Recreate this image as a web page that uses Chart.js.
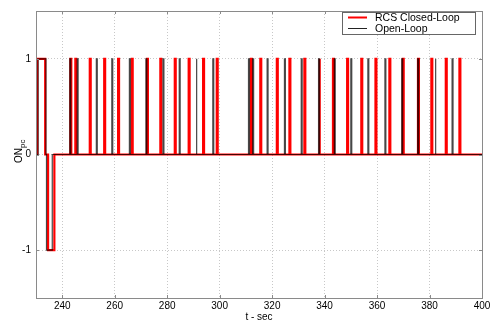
<!DOCTYPE html>
<html>
<head>
<meta charset="utf-8">
<script src="https://cdn.jsdelivr.net/npm/chart.js@4/dist/chart.umd.min.js"></script>
<style>
  html, body { margin: 0; padding: 0; background: #fff; }
  #wrap { width: 495px; height: 323px; }
</style>
</head>
<body>
<div id="wrap"><canvas id="chart" width="495" height="323"></canvas></div>
<script>
// axis ticks
var xTicks = [240, 260, 280, 300, 320, 340, 360, 380, 400];
var yTicks = [-1, 0, 1];

// start transient, [t, level] steps
var redStart = [[230, 0], [230.5, 1], [233.5, 0], [234.6, -1], [237.0, 0]];
var blackStart = [[230, 0], [230.8, 1], [233.8, 0], [234.0, -1], [236.2, 0]];

// thruster firing times (sec), each pulse goes 0 -> 1 -> 0
var redPulses = [243.1, 245.0, 250.5, 256.0, 261.3, 266.5, 272.3, 277.4, 282.9, 288.2,
    293.7, 298.9, 311.9, 315.5, 321.8, 326.6, 332.3, 337.9, 343.2, 348.6, 354.0, 359.4,
    364.7, 369.8, 375.6, 380.7, 386.2, 391.4];
var blackPulses = [242.9, 245.7, 253.0, 258.9, 265.6, 271.9, 278.4, 284.6, 291.0, 297.4,
    311.0, 312.6, 318.1, 324.7, 331.1, 337.7, 343.7, 350.0, 356.5, 363.0, 369.4, 375.5,
    382.1, 388.6];
var pulseWidth = 0.35;
var tEnd = 400;

function buildSeries(start, pulses) {
    var pts = [];
    for (var i = 0; i < start.length; i++) {
        if (i > 0) pts.push({x: start[i][0], y: start[i - 1][1]});
        pts.push({x: start[i][0], y: start[i][1]});
    }
    for (var j = 0; j < pulses.length; j++) {
        var t = pulses[j];
        pts.push({x: t, y: 0});
        pts.push({x: t, y: 1});
        pts.push({x: t + pulseWidth, y: 1});
        pts.push({x: t + pulseWidth, y: 0});
    }
    pts.push({x: tEnd, y: 0});
    return pts;
}

var FONT = "'Liberation Sans', Arial, sans-serif";

// frame box, inner ticks, y label and legend
var framePlugin = {
    id: 'frame',
    afterDraw: function(chart) {
        var ctx = chart.ctx;
        var a = chart.chartArea;
        var xs = chart.scales.x, ys = chart.scales.y;
        ctx.save();
        ctx.strokeStyle = '#8a8a8a';
        ctx.lineWidth = 1;
        ctx.strokeRect(Math.round(a.left) + 0.5, Math.round(a.top) + 0.5,
            Math.round(a.right - a.left), Math.round(a.bottom - a.top));
        ctx.beginPath();
        xTicks.forEach(function(v) {
            var px = Math.round(xs.getPixelForValue(v)) + 0.5;
            ctx.moveTo(px, a.top); ctx.lineTo(px, a.top + 3);
            ctx.moveTo(px, a.bottom); ctx.lineTo(px, a.bottom - 3);
        });
        yTicks.forEach(function(v) {
            var py = Math.round(ys.getPixelForValue(v)) + 0.5;
            ctx.moveTo(a.left, py); ctx.lineTo(a.left + 3, py);
            ctx.moveTo(a.right, py); ctx.lineTo(a.right - 3, py);
        });
        ctx.stroke();

        // y label ON with subscript pc
        ctx.fillStyle = '#000';
        ctx.translate(22, 163);
        ctx.rotate(-Math.PI / 2);
        ctx.textBaseline = 'alphabetic';
        ctx.textAlign = 'left';
        ctx.font = '10px ' + FONT;
        ctx.fillText('ON', 0, 0);
        var w = ctx.measureText('ON').width;
        ctx.font = '8px ' + FONT;
        ctx.fillText('pc', w, 3);
        ctx.restore();

        // legend box
        ctx.save();
        var lx = 342.5, ly = 12.5, lw = 133, lh = 22;
        ctx.fillStyle = '#fff';
        ctx.fillRect(lx, ly, lw, lh);
        ctx.strokeStyle = '#666';
        ctx.lineWidth = 1;
        ctx.strokeRect(lx, ly, lw, lh);
        var ds = chart.data.datasets;
        var rows = [17.5, 28.5];
        ctx.font = '10.5px ' + FONT;
        ctx.textBaseline = 'middle';
        for (var i = 0; i < ds.length; i++) {
            ctx.strokeStyle = ds[i].legendColor;
            ctx.lineWidth = ds[i].legendWidth;
            ctx.beginPath();
            ctx.moveTo(348, rows[i]);
            ctx.lineTo(367, rows[i]);
            ctx.stroke();
            ctx.fillStyle = '#000';
            ctx.fillText(ds[i].label, 375, rows[i] + 0.5);
        }
        ctx.restore();
    }
};

var ctx = document.getElementById('chart');
var chart = new Chart(ctx, {
    type: 'line',
    data: {
        datasets: [{
            label: 'RCS Closed-Loop',
            data: buildSeries(redStart, redPulses),
            borderColor: '#ff0000',
            legendColor: '#ff0000',
            legendWidth: 2,
            borderWidth: 2.2,
            order: 2
        }, {
            label: 'Open-Loop',
            data: buildSeries(blackStart, blackPulses),
            borderColor: 'rgba(0,0,0,0.72)',
            legendColor: '#222',
            legendWidth: 1,
            borderWidth: 1.2,
            order: 1
        }]
    },
    options: {
        responsive: false,
        animation: false,
        parsing: false,
        events: [],
        elements: {
            point: { radius: 0 },
            line: { tension: 0, borderJoinStyle: 'miter', borderCapStyle: 'butt' }
        },
        layout: { padding: { top: 7, right: 13, left: 0, bottom: 0 } },
        plugins: {
            legend: { display: false },
            tooltip: { enabled: false }
        },
        scales: {
            x: {
                type: 'linear',
                min: 230,
                max: 400,
                afterBuildTicks: function(s) { s.ticks = xTicks.map(function(v) { return {value: v}; }); },
                afterFit: function(s) { s.height = 25; },
                grid: { color: '#c8c8c8', drawTicks: false },
                border: { display: false, dash: [1, 2] },
                ticks: { color: '#000', padding: 2, font: { size: 10, family: FONT } },
                title: { display: true, text: 't - sec', color: '#000', padding: 0, font: { size: 10, family: FONT } }
            },
            y: {
                type: 'linear',
                min: -1.5,
                max: 1.5,
                afterBuildTicks: function(s) { s.ticks = yTicks.map(function(v) { return {value: v}; }); },
                afterFit: function(s) { s.width = 36; },
                grid: { color: '#c8c8c8', drawTicks: false },
                border: { display: false, dash: [1, 2] },
                ticks: { color: '#000', padding: 5, font: { size: 10, family: FONT } }
            }
        }
    },
    plugins: [framePlugin]
});
</script>
</body>
</html>
